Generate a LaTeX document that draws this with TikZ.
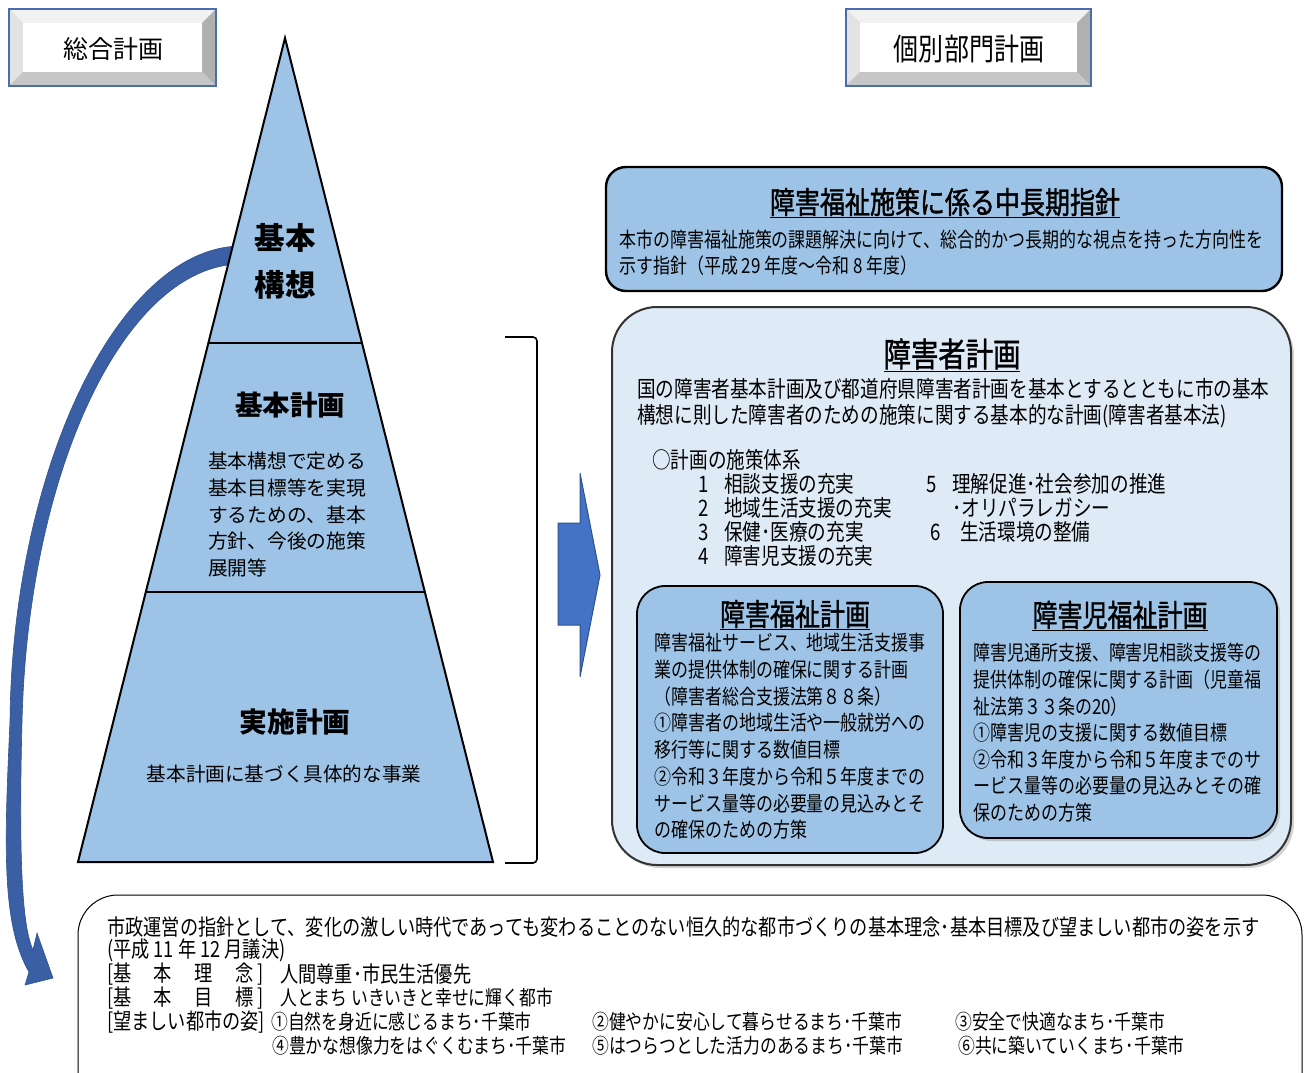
\documentclass[tikz,border=0pt]{standalone}
\usepackage{fontspec}
\setmainfont{Noto Sans CJK JP}
\newfontfamily\jc{Noto Sans CJK JP}[FakeStretch=0.82]
\newfontfamily\jcb{Noto Sans CJK JP}[FakeStretch=0.82, FakeBold=1.3]
\usetikzlibrary{shadows}
\definecolor{pyr}{HTML}{9DC3E6}
\definecolor{pale}{HTML}{DEEBF7}
\definecolor{arrowblue}{HTML}{4472C4}
\definecolor{arrowedge}{HTML}{2F528F}
\definecolor{curveblue}{HTML}{3A5FA5}
\definecolor{lblborder}{HTML}{4A6DAE}
\newcommand{\fs}[1]{\fontsize{#1}{#1}\selectfont}
\newcommand{\bevelbox}[4]{%
  \fill[gray!45] (#1,#2) rectangle (#3,#4);
  \fill[gray!10] (#1,#2) -- (#3,#2) -- ({#3-14},{#2+14}) -- ({#1+14},{#2+14}) -- cycle;
  \fill[gray!22] (#1,#2) -- ({#1+14},{#2+14}) -- ({#1+14},{#4-14}) -- (#1,#4) -- cycle;
  \fill[gray!62] (#3,#2) -- (#3,#4) -- ({#3-14},{#4-14}) -- ({#3-14},{#2+14}) -- cycle;
  \fill[gray!45] (#1,#4) -- (#3,#4) -- ({#3-14},{#4-14}) -- ({#1+14},{#4-14}) -- cycle;
  \fill[white] ({#1+14},{#2+14}) rectangle ({#3-14},{#4-14});
  \draw[lblborder, line width=1.5pt] (#1,#2) rectangle (#3,#4);
}
\begin{document}
\begin{tikzpicture}[x=1pt,y=-1pt,
  txt/.style={inner sep=0pt, anchor=west},
  ctr/.style={inner sep=0pt, anchor=center},
  body/.style={txt, font=\jc\fs{20.7}},
  mid/.style={txt, font=\jc\fs{22.7}},
  low/.style={txt, font=\jc\fs{22.2}},
  lowsm/.style={txt, font=\jc\fs{20.5}},
  ptext/.style={txt, font=\fs{19.7}},
  ptitle/.style={ctr, font=\bfseries\fs{27.5}},
  btitle/.style={ctr, font=\jcb\fs{30.5}},
  panel/.style={draw=black, line width=1.8pt, fill=pyr, inner sep=0pt},
  shade/.style={drop shadow={opacity=0.35, shadow xshift=3pt, shadow yshift=-3pt}},
]
\useasboundingbox (0,0) rectangle (1304,1073);

% label boxes
\bevelbox{9}{9}{216}{86}
\bevelbox{846}{9}{1091}{86}
\node[ctr, font=\fs{25}] (lblA) at (113,49) {総合計画};
\node[ctr, font=\jc\fs{30.5}] (lblB) at (969,49) {個別部門計画};

% curved arrow (behind pyramid)
\filldraw[fill=curveblue, draw=arrowedge, line width=0.6pt]
  (240,246) .. controls (118,248) and (12,470) .. (10,722)
  .. controls (4,850) and (2,925) .. (29,972)
  -- (25,985) -- (53,978) -- (37,933) -- (33,950)
  .. controls (24,930) and (18,880) .. (22,722)
  .. controls (28,470) and (125,266) .. (240,264) -- cycle;

% pyramid
\coordinate (apex) at (285,38);
\coordinate (bl) at (78,862);
\coordinate (br) at (493,862);
\filldraw[fill=pyr, draw=black, line width=2pt] (apex) -- (br) -- (bl) -- cycle;
\draw[line width=2pt] (208.4,343) -- (362,343);
\draw[line width=2pt] (145.8,592) -- (424.8,592);

\node[ctr, font=\bfseries\fs{30.5}] (kk1) at (285,238) {基本};
\node[ctr, font=\bfseries\fs{30.5}] (kk2) at (285,285) {構想};
\node[ptitle] (kp) at (290,405) {基本計画};
\foreach \t [count=\i] in {{基本構想で定める},{基本目標等を実現},{するための、基本},{方針、今後の施策},{展開等}}
  \node[ptext] (kpb\i) at (208,{461+26.8*(\i-1)}) {\t};
\node[ptitle, font=\bfseries\fs{27.75}] (jp) at (295,722) {実施計画};
\node[ctr, font=\fs{19.6}] (jpb) at (284,774) {基本計画に基づく具体的な事業};

% bracket
\draw[line width=1.6pt, rounded corners=4pt] (505,337) -- (537,337) -- (537,863) -- (505,863);

% block arrow
\filldraw[fill=arrowblue, draw=arrowedge, line width=1pt]
  (558,523) -- (580,523) -- (580,473) -- (600,575) -- (580,677) -- (580,625) -- (558,625) -- cycle;

% top right panel
\node[panel, line width=2.4pt, rounded corners=20pt, minimum width=676pt, minimum height=124pt] (guide) at (944,229) {};
\node[btitle] (guideT) at (945,203) {\underline{障害福祉施策に係る中長期指針}};
\node[body] (guide1) at (619,240) {本市の障害福祉施策の課題解決に向けて、総合的かつ長期的な視点を持った方向性を};
\node[body] (guide2) at (619,266) {示す指針（平成 29 年度～令和 8 年度）};

% middle panel
\node[draw=black!80, line width=2pt, fill=pale, rounded corners=45pt, minimum width=679pt, minimum height=558pt, inner sep=0pt, shade] (plan) at (951.5,586) {};
\node[ctr, font=\jcb\fs{33.4}] (planT) at (952,355) {\underline{障害者計画}};
\node[mid] (plan1) at (637,389) {国の障害者基本計画及び都道府県障害者計画を基本とするとともに市の基本};
\node[mid] (plan2) at (637,416) {構想に則した障害者のための施策に関する基本的な計画(障害者基本法)};
\node[mid] (i0) at (652,460) {○計画の施策体系};
\foreach \n/\t [count=\i] in {1/{相談支援の充実},2/{地域生活支援の充実},3/{保健･医療の充実},4/{障害児支援の充実}}
  \node[mid] (ia\i) at (698,{484+24*(\i-1)}) {\makebox[26pt][l]{\n}\t};
\node[mid] (ib1) at (926,484) {\makebox[26pt][l]{5}理解促進･社会参加の推進};
\node[mid] (ib2) at (952,508) {･オリパラレガシー};
\node[mid] (ib3) at (930,532) {\makebox[30pt][l]{6}生活環境の整備};

% inner panel 1
\node[panel, rounded corners=28pt, minimum width=306pt, minimum height=267pt] (wel) at (790,719.5) {};
\node[btitle] (welT) at (795,615) {\underline{障害福祉計画}};
\foreach \t [count=\i] in {{障害福祉サービス、地域生活支援事},{業の提供体制の確保に関する計画},{（障害者総合支援法第８８条）},{①障害者の地域生活や一般就労への},{移行等に関する数値目標},{②令和３年度から令和５年度までの},{サービス量等の必要量の見込みとそ},{の確保のための方策}}
  \node[body] (wa\i) at (654,{643+26.7*(\i-1)}) {\t};

% inner panel 2
\node[panel, rounded corners=28pt, minimum width=317pt, minimum height=256pt, shade] (chi) at (1118.5,710) {};
\node[btitle] (chiT) at (1120,616) {\underline{障害児福祉計画}};
\foreach \t [count=\i] in {{障害児通所支援、障害児相談支援等の},{提供体制の確保に関する計画（児童福},{祉法第３３条の20）},{①障害児の支援に関する数値目標},{②令和３年度から令和５年度までのサ},{ービス量等の必要量の見込みとその確},{保のための方策}}
  \node[body] (cb\i) at (973,{653+26.6*(\i-1)}) {\t};

% bottom box
\begin{scope}
\clip (0,0) rectangle (1304,1073);
\draw[line width=1pt, rounded corners=40pt] (78,895) rectangle (1302,1130);
\end{scope}
\node[low] (v1) at (107,927) {市政運営の指針として、変化の激しい時代であっても変わることのない恒久的な都市づくりの基本理念･基本目標及び望ましい都市の姿を示す};
\node[low] (v2) at (107,950) {(平成 11 年 12 月議決)};
\node[low] (v3a) at (107,974) {[\makebox[140pt][s]{基\hfill 本\hfill 理\hfill 念}\,]};
\node[low] (v3b) at (280,974) {人間尊重･市民生活優先};
\node[low] (v4a) at (107,998) {[\makebox[140pt][s]{基\hfill 本\hfill 目\hfill 標}\,]};
\node[lowsm] (v4b) at (280,998) {人とまち\ いきいきと幸せに輝く都市};
\node[low] (v5a) at (107,1022) {[望ましい都市の姿]};
\node[lowsm] (v5b) at (271,1022) {①自然を身近に感じるまち･千葉市};
\node[lowsm] (v5c) at (592,1022) {②健やかに安心して暮らせるまち･千葉市};
\node[lowsm] (v5d) at (955,1022) {③安全で快適なまち･千葉市};
\node[lowsm] (v6a) at (272,1046) {④豊かな想像力をはぐくむまち･千葉市};
\node[lowsm] (v6b) at (592,1046) {⑤はつらつとした活力のあるまち･千葉市};
\node[lowsm] (v6c) at (958,1046) {⑥共に築いていくまち･千葉市};
\end{tikzpicture}
\end{document}
